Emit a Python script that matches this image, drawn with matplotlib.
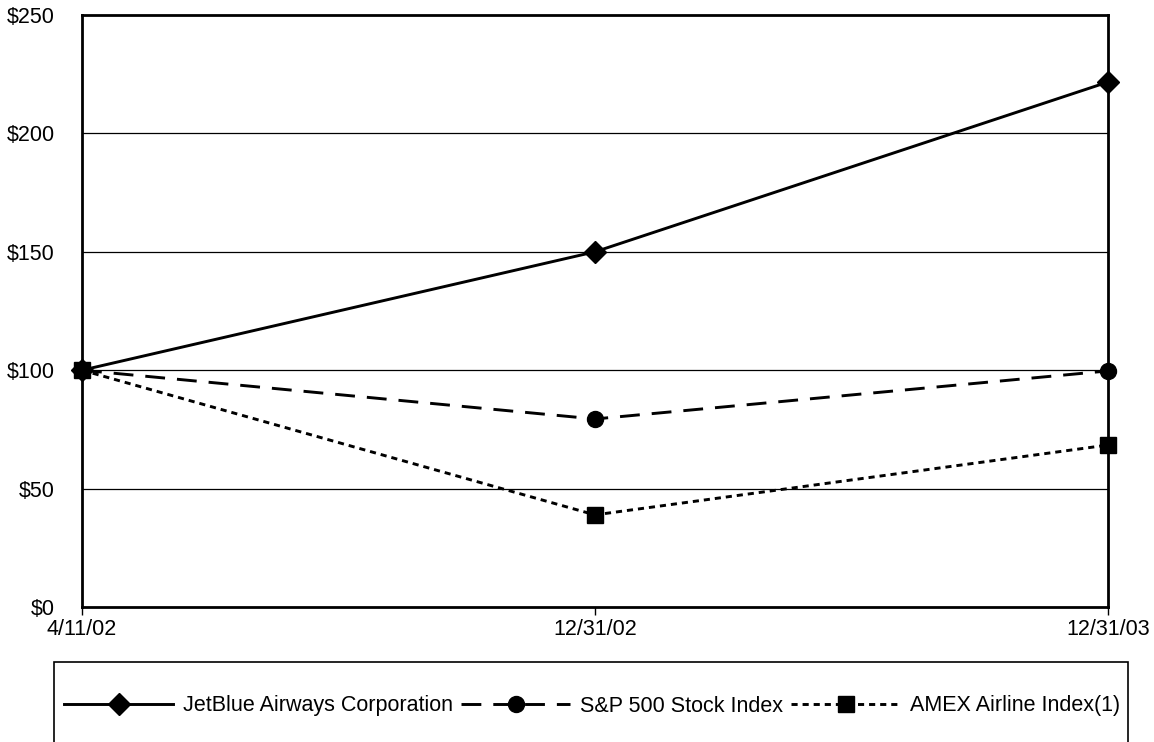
import matplotlib
matplotlib.use("Agg")
import matplotlib.pyplot as plt
from matplotlib.patches import Rectangle

plt.rcParams["font.family"] = ["Liberation Sans", "DejaVu Sans"]

# ── Données ──────────────────────────────────────────────
dates = ["4/11/02", "12/31/02", "12/31/03"]
jetblue = [100, 150, 221.7]
sp500 = [100, 79.4, 99.7]
amex = [100, 38.9, 68.4]
y_ticks = [0, 50, 100, 150, 200, 250]
y_labels = [f"${v}" for v in y_ticks]

W, H = 1154, 742
fig = plt.figure(figsize=(W / 100, H / 100), dpi=100)
ax = fig.add_axes([82 / W, 1 - 607 / H, (1108 - 82) / W, (607 - 15) / H])

x = list(range(len(dates)))
ax.plot(x, jetblue, color="black", lw=2.1, marker="D", ms=11,
        label="JetBlue Airways Corporation", zorder=6, clip_on=False)
ax.plot(x, sp500, color="black", lw=2.1, marker="o", ms=11.5,
        dashes=(6.8, 4.1), label="S&P 500 Stock Index", zorder=5, clip_on=False)
ax.plot(x, amex, color="black", lw=2.1, marker="s", ms=11,
        dashes=(2.1, 1.7), label="AMEX Airline Index(1)", zorder=4, clip_on=False)

ax.set_xlim(0, 2)
ax.set_ylim(0, 250)
ax.set_xticks(x)
ax.set_xticklabels(dates, fontsize=15.5)
ax.set_yticks(y_ticks)
ax.set_yticklabels(y_labels, fontsize=15.5)
ax.tick_params(axis="y", length=0, pad=19.5)
ax.tick_params(axis="x", length=6, width=1, direction="out", pad=2.5)
for v in y_ticks[1:-1]:
    ax.axhline(v, color="black", lw=0.9, zorder=1)
for s in ax.spines.values():
    s.set_linewidth(2)

# ── Légende ──────────────────────────────────────────────
fig.patches.append(Rectangle((54 / W, -0.1), (1128 - 54) / W, 0.1 + 1 - 662 / H,
                             transform=fig.transFigure, fill=False,
                             edgecolor="black", lw=1.2))
fig.legend(loc="center", bbox_to_anchor=(592 / W, 1 - 706 / H), ncol=3,
           frameon=False, fontsize=15.5, handlelength=5.1, handletextpad=0.45,
           columnspacing=0.35)

fig.savefig("out.png", dpi=100)
